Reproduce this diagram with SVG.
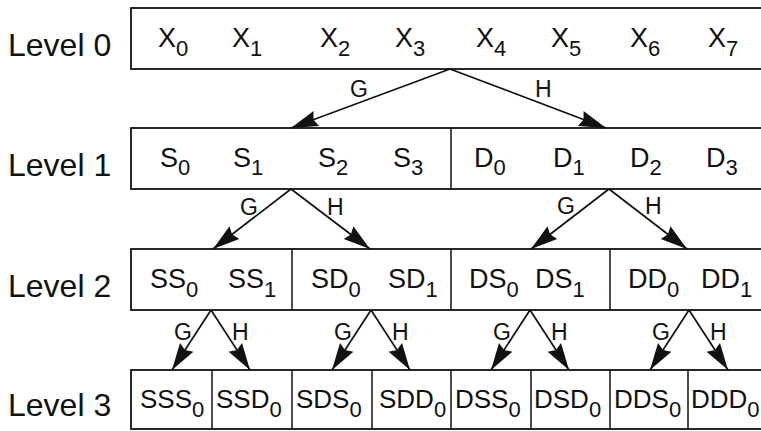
<svg xmlns="http://www.w3.org/2000/svg" width="761" height="431" viewBox="0 0 761 431">
<style>
.box{fill:#fff;stroke:#111;stroke-width:1.8}
.div{stroke:#111;stroke-width:1.5}
.lvl{font-family:"Liberation Sans",Arial,sans-serif;font-size:32px;fill:#111}
.t{font-family:"Liberation Sans",Arial,sans-serif;font-size:27px;fill:#111}
.t3{font-family:"Liberation Sans",Arial,sans-serif;font-size:26px;fill:#111}
.sub{font-size:22px}
.gh{font-family:"Liberation Sans",Arial,sans-serif;font-size:23px;fill:#111}
.arr{stroke:#111;stroke-width:1.7;fill:none;marker-end:url(#ah)}
</style>
<defs>
<marker id="ah" markerUnits="userSpaceOnUse" markerWidth="30" markerHeight="18" refX="27" refY="8" orient="auto" overflow="visible">
<path d="M0,0 L27,8 L0,16 L3,8 Z" fill="#111"/>
</marker>
</defs>
<rect width="761" height="431" fill="#fff"/>

<g id="labels">
<text class="lvl" x="8" y="56">Level 0</text>
<text class="lvl" x="8" y="176">Level 1</text>
<text class="lvl" x="8" y="297">Level 2</text>
<text class="lvl" x="8" y="416">Level 3</text>
</g>

<g id="level0">
<rect class="box" x="131" y="8" width="650" height="61"/>
<text class="t" x="158" y="47">X<tspan class="sub" dy="9">0</tspan></text>
<text class="t" x="232" y="47">X<tspan class="sub" dy="9">1</tspan></text>
<text class="t" x="320" y="47">X<tspan class="sub" dy="9">2</tspan></text>
<text class="t" x="395" y="47">X<tspan class="sub" dy="9">3</tspan></text>
<text class="t" x="476" y="47">X<tspan class="sub" dy="9">4</tspan></text>
<text class="t" x="551" y="47">X<tspan class="sub" dy="9">5</tspan></text>
<text class="t" x="630" y="47">X<tspan class="sub" dy="9">6</tspan></text>
<text class="t" x="708" y="47">X<tspan class="sub" dy="9">7</tspan></text>
</g>

<g id="level1">
<rect class="box" x="131" y="128" width="650" height="61"/>
<line class="div" x1="451" y1="128" x2="451" y2="189"/>
<text class="t" x="160" y="167">S<tspan class="sub" dy="8">0</tspan></text>
<text class="t" x="233" y="167">S<tspan class="sub" dy="8">1</tspan></text>
<text class="t" x="318" y="167">S<tspan class="sub" dy="8">2</tspan></text>
<text class="t" x="393" y="167">S<tspan class="sub" dy="8">3</tspan></text>
<text class="t" x="474" y="167">D<tspan class="sub" dy="8">0</tspan></text>
<text class="t" x="553" y="167">D<tspan class="sub" dy="8">1</tspan></text>
<text class="t" x="630" y="167">D<tspan class="sub" dy="8">2</tspan></text>
<text class="t" x="706" y="167">D<tspan class="sub" dy="8">3</tspan></text>
</g>

<g id="level2">
<rect class="box" x="131" y="249" width="650" height="61"/>
<line class="div" x1="292" y1="249" x2="292" y2="310"/>
<line class="div" x1="451" y1="249" x2="451" y2="310"/>
<line class="div" x1="610" y1="249" x2="610" y2="310"/>
<text class="t" x="150" y="288">SS<tspan class="sub" dy="9">0</tspan></text>
<text class="t" x="228" y="288">SS<tspan class="sub" dy="9">1</tspan></text>
<text class="t" x="311" y="288">SD<tspan class="sub" dy="9">0</tspan></text>
<text class="t" x="388" y="288">SD<tspan class="sub" dy="9">1</tspan></text>
<text class="t" x="469" y="288">DS<tspan class="sub" dy="9">0</tspan></text>
<text class="t" x="535" y="288">DS<tspan class="sub" dy="9">1</tspan></text>
<text class="t" x="628" y="288">DD<tspan class="sub" dy="9">0</tspan></text>
<text class="t" x="701" y="288">DD<tspan class="sub" dy="9">1</tspan></text>
</g>

<g id="level3">
<rect class="box" x="131" y="370" width="650" height="59"/>
<line class="div" x1="212" y1="370" x2="212" y2="429"/>
<line class="div" x1="292" y1="370" x2="292" y2="429"/>
<line class="div" x1="372" y1="370" x2="372" y2="429"/>
<line class="div" x1="451" y1="370" x2="451" y2="429"/>
<line class="div" x1="531" y1="370" x2="531" y2="429"/>
<line class="div" x1="610" y1="370" x2="610" y2="429"/>
<line class="div" x1="688" y1="370" x2="688" y2="429"/>
<text class="t3" x="140" y="408">SSS<tspan class="sub" dy="9">0</tspan></text>
<text class="t3" x="216" y="408">SSD<tspan class="sub" dy="9">0</tspan></text>
<text class="t3" x="296" y="408">SDS<tspan class="sub" dy="9">0</tspan></text>
<text class="t3" x="379" y="408">SDD<tspan class="sub" dy="9">0</tspan></text>
<text class="t3" x="455" y="408">DSS<tspan class="sub" dy="9">0</tspan></text>
<text class="t3" x="534" y="408">DSD<tspan class="sub" dy="9">0</tspan></text>
<text class="t3" x="614" y="408">DDS<tspan class="sub" dy="9">0</tspan></text>
<text class="t3" x="691" y="408">DDD<tspan class="sub" dy="9">0</tspan></text>
</g>

<g id="connectors">
<line class="arr" x1="450" y1="69" x2="291" y2="128"/>
<line class="arr" x1="450" y1="69" x2="606" y2="128"/>
<line class="arr" x1="291" y1="189" x2="213" y2="249"/>
<line class="arr" x1="291" y1="189" x2="370" y2="249"/>
<line class="arr" x1="609" y1="189" x2="531" y2="249"/>
<line class="arr" x1="609" y1="189" x2="687" y2="249"/>
<line class="arr" x1="211" y1="310" x2="172" y2="370"/>
<line class="arr" x1="211" y1="310" x2="250" y2="370"/>
<line class="arr" x1="371" y1="310" x2="332" y2="370"/>
<line class="arr" x1="371" y1="310" x2="410" y2="370"/>
<line class="arr" x1="530" y1="310" x2="491" y2="370"/>
<line class="arr" x1="530" y1="310" x2="569" y2="370"/>
<line class="arr" x1="689" y1="310" x2="650" y2="370"/>
<line class="arr" x1="689" y1="310" x2="728" y2="370"/>
<text class="gh" x="350" y="97">G</text>
<text class="gh" x="535" y="97">H</text>
<text class="gh" x="240" y="215">G</text>
<text class="gh" x="327" y="215">H</text>
<text class="gh" x="557" y="214">G</text>
<text class="gh" x="645" y="214">H</text>
<text class="gh" x="174" y="340">G</text>
<text class="gh" x="232" y="340">H</text>
<text class="gh" x="334" y="340">G</text>
<text class="gh" x="392" y="340">H</text>
<text class="gh" x="493" y="340">G</text>
<text class="gh" x="551" y="340">H</text>
<text class="gh" x="652" y="340">G</text>
<text class="gh" x="710" y="340">H</text>
</g>
</svg>
